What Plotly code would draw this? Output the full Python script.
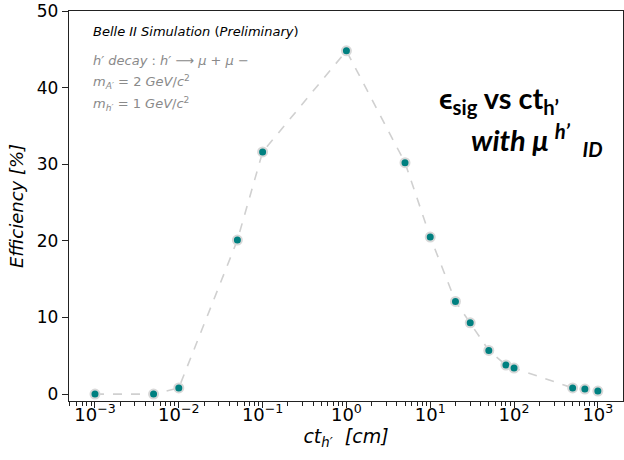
import plotly.graph_objects as go

# Signal efficiency vs. proper decay length of the h'
ct_cm = [1e-3, 5e-3, 1e-2, 5e-2, 1e-1, 1, 5, 10, 20, 30, 50, 80, 100, 500, 700, 1000]
efficiency = [0.0, 0.0, 0.8, 20.1, 31.6, 44.8, 30.2, 20.5, 12.1, 9.3, 5.7, 3.8, 3.4, 0.8, 0.65, 0.4]

x_tick_vals = [1e-3, 1e-2, 1e-1, 1, 10, 100, 1000]
x_tick_text = ["10<sup>−3</sup>", "10<sup>−2</sup>", "10<sup>−1</sup>", "10<sup>0</sup>",
               "10<sup>1</sup>", "10<sup>2</sup>", "10<sup>3</sup>"]
y_ticks = [0, 10, 20, 30, 40, 50]

x_title = "<i>ct<sub>h′</sub>  [cm]</i>"
y_title = "<i>Efficiency [%]</i>"

TEAL = "#008080"
LINE_GREY = "#d0d0d0"
TEXT_GREY = "#8a8a8a"

fig = go.Figure()
fig.add_trace(go.Scatter(
    x=ct_cm, y=efficiency, mode="lines+markers",
    line=dict(color=LINE_GREY, width=1.6, dash="dash"),
    marker=dict(color=TEAL, size=9, line=dict(color="#d8d8d8", width=2)),
    showlegend=False,
))

fig.update_layout(
    width=624, height=460,
    margin=dict(l=69, r=1, t=11, b=59),
    paper_bgcolor="white", plot_bgcolor="white",
    font=dict(family="DejaVu Sans", color="black"),
    xaxis=dict(
        type="log", range=[-3.31, 3.30],
        tickvals=x_tick_vals, ticktext=x_tick_text,
        showgrid=False, zeroline=False,
        showline=True, linecolor="#222", linewidth=1.3, mirror=True,
        ticks="outside", ticklen=6, tickwidth=1.2, tickcolor="#222",
        minor=dict(ticks="outside", ticklen=3.5, tickwidth=1, tickcolor="#222",
                   dtick="D1", showgrid=False),
        tickfont=dict(family="DejaVu Sans", size=18, color="black"),
        ticklabelstandoff=-9,
        title=dict(text=x_title, font=dict(family="DejaVu Sans", size=19), standoff=5),
    ),
    yaxis=dict(
        range=[-0.9, 50], tickvals=y_ticks,
        showgrid=False, zeroline=False,
        showline=True, linecolor="#222", linewidth=1.3, mirror=True,
        ticks="outside", ticklen=6, tickwidth=1.2, tickcolor="#222",
        tickfont=dict(family="DejaVu Sans", size=17, color="black"),
        title=dict(text=y_title, font=dict(family="DejaVu Sans", size=18), standoff=8),
    ),
)

def px_x(px):
    return (px - 69) / 554

def px_y(py):
    return (401 - py) / 390

info_lines = [
    ("<i>Belle II Simulation</i> (<i>Preliminary</i>)", 31, "black"),
    ("<i>h′ decay</i> : <i>h′</i> ⟶ <i>μ</i> + <i>μ</i> −", 60, TEXT_GREY),
    ("<i>m<sub>A′</sub></i> = 2 <i>GeV</i>/<i>c</i><sup>2</sup>", 82, TEXT_GREY),
    ("<i>m<sub>h′</sub></i> = 1 <i>GeV</i>/<i>c</i><sup>2</sup>", 104, TEXT_GREY),
]
for text, py, color in info_lines:
    fig.add_annotation(
        text=text, xref="paper", yref="paper", x=px_x(91), y=px_y(py),
        xanchor="left", yanchor="middle", showarrow=False,
        font=dict(family="DejaVu Sans", size=13, color=color),
    )

fig.add_annotation(
    text="<b>ϵ<sub>sig</sub> vs ct<sub>h’</sub></b>",
    xref="paper", yref="paper", x=px_x(437), y=px_y(100),
    xanchor="left", yanchor="middle", showarrow=False,
    font=dict(family="Lato", size=29, color="black"),
)
fig.add_annotation(
    text="<b><i>with μ <sup>h’</sup>  <sub>ID</sub></i></b>",
    xref="paper", yref="paper", x=px_x(469), y=px_y(140),
    xanchor="left", yanchor="middle", showarrow=False,
    font=dict(family="Lato", size=29, color="black"),
)

fig.write_html("out.html")
